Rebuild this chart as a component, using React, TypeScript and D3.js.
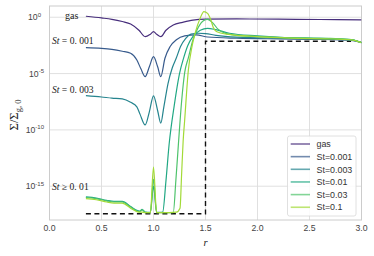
import React from "react";
import * as d3 from "d3";

// values, as log10(Sigma / Sigma_g0)
const rGas = [0.35, 0.5, 0.6, 0.7, 0.78, 0.86, 0.92, 0.97, 1.0, 1.03, 1.07, 1.12, 1.19, 1.28, 1.38, 1.5, 1.8, 2.2, 2.6, 3.0];
const logGas = [0.09, -0.06, -0.18, -0.38, -0.6, -1.15, -1.72, -1.5, -1.28, -1.5, -1.72, -1.15, -0.68, -0.45, -0.25, -0.17, -0.15, -0.17, -0.2, -0.24];

const rSt001 = [0.35, 0.5, 0.6, 0.7, 0.78, 0.84, 0.88, 0.92, 0.96, 1.0, 1.04, 1.07, 1.11, 1.16, 1.22, 1.3, 1.41, 1.52, 1.8, 2.2, 2.6, 2.9, 3.0];
const logSt001 = [-2.7, -2.76, -2.85, -3.02, -3.2, -3.8, -4.6, -5.27, -4.4, -3.5, -4.4, -5.27, -3.64, -2.6, -2.0, -1.66, -1.57, -1.75, -1.86, -1.92, -1.96, -2.05, -2.25];

const rSt003 = [0.35, 0.5, 0.6, 0.7, 0.78, 0.84, 0.87, 0.92, 0.96, 1.0, 1.04, 1.07, 1.1, 1.14, 1.18, 1.22, 1.26, 1.31, 1.36, 1.43, 1.5, 1.6, 1.8, 2.2, 2.6, 2.9, 3.0];
const logSt003 = [-6.96, -7.08, -7.18, -7.25, -7.55, -7.95, -8.6, -9.56, -8.4, -6.98, -8.3, -9.4, -7.93, -5.86, -4.5, -3.6, -2.6, -1.87, -1.5, -1.42, -1.45, -1.6, -1.76, -1.86, -1.92, -2.0, -2.25];

const rSt01 = [0.35, 0.45, 0.55, 0.62, 0.7, 0.78, 0.84, 0.87, 0.89, 0.92, 0.97, 1.0, 1.03, 1.06, 1.088, 1.12, 1.15, 1.2, 1.25, 1.29, 1.33, 1.38, 1.45, 1.52, 1.6, 1.73, 2.0, 2.22, 2.6, 2.9, 3.0];
const logSt01 = [-15.95, -16.05, -16.25, -16.35, -16.35, -16.8, -17.15, -17.2, -17.05, -17.3, -17.32, -15.0, -17.32, -17.32, -17.3, -14.5, -11.3, -7.8, -5.0, -3.6, -2.5, -1.7, -1.15, -0.98, -1.1, -1.42, -1.65, -1.78, -1.88, -1.98, -2.25];

const rSt03 = [0.35, 0.45, 0.55, 0.62, 0.7, 0.78, 0.84, 0.87, 0.89, 0.92, 0.97, 1.0, 1.03, 1.08, 1.19, 1.215, 1.24, 1.27, 1.3, 1.335, 1.38, 1.43, 1.48, 1.52, 1.57, 1.62, 1.7, 1.9, 2.3, 2.7, 2.9, 3.0];
const logSt03 = [-16.0, -16.1, -16.3, -16.4, -16.4, -16.85, -17.2, -17.25, -17.1, -17.32, -17.34, -14.4, -17.34, -17.34, -17.34, -14.5, -11.2, -7.5, -4.9, -3.6, -2.0, -0.9, -0.3, -0.18, -0.5, -1.05, -1.45, -1.68, -1.8, -1.88, -1.98, -2.25];

const rSt1 = [0.35, 0.45, 0.55, 0.62, 0.7, 0.78, 0.84, 0.87, 0.89, 0.92, 0.97, 1.0, 1.03, 1.08, 1.22, 1.255, 1.27, 1.285, 1.3, 1.335, 1.37, 1.4, 1.447, 1.485, 1.52, 1.55, 1.575, 1.61, 1.7, 2.0, 2.31, 2.73, 2.9, 3.0];
const logSt1 = [-16.1, -16.2, -16.4, -16.5, -16.5, -16.95, -17.25, -17.3, -17.3, -17.35, -17.35, -13.3, -17.35, -17.35, -17.3, -16.95, -14.0, -11.0, -9.1, -4.7, -2.6, -1.42, -0.12, 0.5, 0.35, -0.2, -0.9, -1.28, -1.5, -1.72, -1.85, -1.93, -2.0, -2.25];

// initial dust profile (dashed)
const rInit = [0.35, 1.5, 1.5, 2.9];
const logInit = [-17.45, -17.45, -2.13, -2.13];

const seriesNames = ["gas", "St=0.001", "St=0.003", "St=0.01", "St=0.03", "St=0.1"];
const seriesR = [rGas, rSt001, rSt003, rSt01, rSt03, rSt1];
const seriesLog = [logGas, logSt001, logSt003, logSt01, logSt03, logSt1];
const seriesT = [0.13, 0.28, 0.45, 0.6, 0.72, 0.86];

const xTicks = [0, 0.5, 1.0, 1.5, 2.0, 2.5, 3.0];
const yTickExp = [0, -5, -10, -15];

const W = 374, H = 256;
const left = 49.5, right = 361.5, top = 6, bottom = 220;

const App = () => {
  const x = d3.scaleLinear().domain([0, 3]).range([left, right]);
  const y = d3.scaleLog().domain([1e-18, 1e1]).range([bottom, top]);

  const line = d3.line<[number, number]>()
    .x(d => x(d[0]))
    .y(d => y(Math.pow(10, d[1])))
    .curve(d3.curveMonotoneX);

  const dashLine = d3.line<[number, number]>()
    .x(d => x(d[0]))
    .y(d => y(Math.pow(10, d[1])));

  const series = seriesNames.map((name, i) => ({
    name,
    color: d3.interpolateViridis(seriesT[i]),
    pts: seriesR[i].map((r, j) => [r, seriesLog[i][j]] as [number, number]),
  }));

  const tickFont = "'Liberation Sans', Arial, sans-serif";
  const serif = "'Liberation Serif', 'DejaVu Serif', serif";

  return (
    <svg width={W} height={H} style={{ position: "absolute", left: 0, top: 0, background: "#fff" }}>
      <defs>
        <clipPath id="plot">
          <rect x={left} y={top} width={right - left} height={bottom - top} />
        </clipPath>
      </defs>
      {xTicks.map(t => (
        <line key={"gx" + t} x1={x(t)} x2={x(t)} y1={top} y2={bottom} stroke="#dcdcdc" strokeWidth={0.9} />
      ))}
      {yTickExp.map(e => (
        <line key={"gy" + e} x1={left} x2={right} y1={y(Math.pow(10, e))} y2={y(Math.pow(10, e))} stroke="#dcdcdc" strokeWidth={0.9} />
      ))}
      <rect x={left} y={top} width={right - left} height={bottom - top} fill="none" stroke="#cccccc" strokeWidth={1} />

      <g clipPath="url(#plot)">
        <path d={dashLine(rInit.map((r, j) => [r, logInit[j]] as [number, number])) || ""}
          fill="none" stroke="#111" strokeWidth={1.4} strokeDasharray="5,3.5" />
        {series.map(s => (
          <path key={s.name} d={line(s.pts) || ""} fill="none" stroke={s.color} strokeWidth={1.2} />
        ))}
      </g>

      {xTicks.map(t => (
        <text key={"tx" + t} x={x(t)} y={231} textAnchor="middle" fontFamily={tickFont} fontSize={8.7} fill="#444">
          {t.toFixed(1)}
        </text>
      ))}
      {yTickExp.map(e => (
        <text key={"ty" + e} x={e === 0 ? 41 : 44} y={y(Math.pow(10, e)) + 3} textAnchor="end" fontFamily={tickFont} fontSize={8.7} fill="#444">
          10<tspan fontSize={6} dy={-3.5}>{e === 0 ? "0" : "-" + Math.abs(e)}</tspan>
        </text>
      ))}

      <text x={205.5} y={246} textAnchor="middle" fontFamily={serif} fontStyle="italic" fontSize={10.5} fill="#222">r</text>
      <text transform="translate(18,115) rotate(-90)" textAnchor="middle" fontFamily={serif} fontSize={12.5} fill="#222">
        Σ/Σ<tspan fontSize={8.5} dy={3}>g, 0</tspan>
      </text>

      <text x={65} y={19} fontFamily={serif} fontSize={10} fill="#222">gas</text>
      <text x={52} y={43.5} fontFamily={serif} fontSize={9.6} fill="#222">
        <tspan fontStyle="italic">St</tspan> = 0. 001
      </text>
      <text x={52} y={93} fontFamily={serif} fontSize={9.6} fill="#222">
        <tspan fontStyle="italic">St</tspan> = 0. 003
      </text>
      <text x={52} y={190} fontFamily={serif} fontSize={9.6} fill="#222">
        <tspan fontStyle="italic">St</tspan> ≥ 0. 01
      </text>

      <g>
        <rect x={287.5} y={136} width={68.5} height={80} rx={2} fill="#fff" fillOpacity={0.85} stroke="#d8d8d8" strokeWidth={0.8} />
        {series.map((s, i) => (
          <g key={"lg" + s.name} transform={`translate(0,${144 + i * 12.65})`}>
            <line x1={290.7} x2={310} y1={0} y2={0} stroke={s.color} strokeWidth={1.6} strokeOpacity={0.7} />
            <text x={316.5} y={3.2} fontFamily={tickFont} fontSize={8.9} fill="#333">{s.name}</text>
          </g>
        ))}
      </g>
    </svg>
  );
};

export default App;
